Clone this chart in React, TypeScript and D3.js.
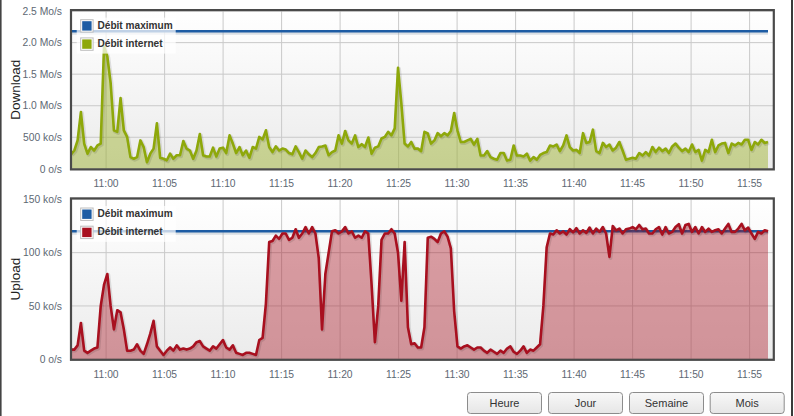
import React from 'react';
import * as d3 from 'd3';

// ---------- data ----------
const START_HOUR = 10;
const START_MINUTE = 57;
const STEP_SECONDS = 16.94;
const DOMAIN_MINUTES = 60;

const downloadKo = [
  230, 290, 450, 900, 400, 240, 345, 290, 370, 400,
  1940, 1780, 1360, 610, 585, 1120, 610, 505, 185, 160,
  185, 450, 345, 105, 240, 320, 720, 175, 160, 135,
  240, 160, 215, 215, 440, 320, 290, 160, 290, 550,
  215, 195, 195, 335, 195, 320, 335, 250, 530, 400,
  250, 345, 215, 290, 175, 345, 320, 505, 465, 610,
  345, 265, 355, 290, 320, 305, 250, 230, 355, 265,
  160, 290, 230, 185, 250, 345, 355, 370, 215, 265,
  290, 530, 400, 600, 450, 400, 530, 345, 390, 345,
  495, 240, 335, 355, 480, 505, 585, 530, 640, 1600,
  1040, 400, 355, 425, 320,
  320, 280, 585, 560, 400, 450, 565, 515, 565, 530,
  600, 885, 610, 425, 425, 450, 475, 385, 475, 210,
  210, 280, 185, 160, 145, 250, 250, 130, 145, 370,
  210, 210, 195, 240, 130, 185, 145, 220, 250, 265,
  370, 355, 385, 280, 370, 530, 345, 290, 300, 250,
  565, 410, 425, 620, 280, 250, 410, 345, 385, 290,
  335, 425, 290, 145, 160, 175, 160, 250, 210, 265,
  210, 345, 265, 335, 280, 320, 250, 355, 400, 335,
  280, 320, 265, 385, 265, 300, 130, 300, 265, 460,
  265, 370, 400, 410, 250, 400, 370, 410, 385, 460,
  460, 300, 425, 385, 460, 410, 425,
];

const uploadKo = [
  9, 9, 13, 34, 8, 6, 8, 10, 11, 50,
  70, 80, 50, 28, 46, 44, 28, 8, 8, 9,
  14, 8, 5, 14, 24, 36, 12, 8, 4, 8,
  11, 8, 13, 9, 10, 9, 10, 12, 16, 17,
  12, 10, 8, 12, 10, 14, 18, 11, 9, 13,
  6, 5, 4, 6, 6, 5, 4, 18, 20, 52,
  110, 111, 116, 113, 118, 118, 112, 114, 122, 114,
  118, 124, 118, 124, 118, 95, 28, 80, 100, 120,
  121, 118, 120, 124, 118, 120, 114, 116, 114, 120,
  118, 70, 16, 50, 112, 118, 118, 122, 118, 100,
  55, 110, 30, 14, 15, 11, 11, 30, 114, 115,
  113, 110, 118, 120, 115, 104, 45, 12, 10, 12,
  13, 11, 9, 11, 11, 8, 6, 9, 7, 5,
  8, 6, 10, 12, 7, 5, 8, 12, 6, 9,
  8, 11, 14, 50, 105, 118, 117, 121, 118, 120,
  117, 122, 119, 123, 118, 121, 118.5, 123.6, 118, 122.6,
  119.5, 124, 118, 96, 125, 121, 122.6, 118, 122, 122.6,
  124, 122, 126, 122, 122.6, 118, 118, 122, 124, 117,
  124, 118, 119.5, 124, 126.7, 118, 126, 127, 119.5, 124,
  118, 124, 119.5, 122.6, 119.5, 121, 122, 118, 122.6, 127,
  119.5, 119.5, 122.6, 127, 121, 123.6, 118, 113, 119.5, 118,
  121, 120,
];

const maxDownloadKo = 2180;
const maxUploadKo = 120;

const xTickLabels = ['11:00', '11:05', '11:10', '11:15', '11:20', '11:25', '11:30', '11:35', '11:40', '11:45', '11:50', '11:55'];
const downloadTicks = [0, 500, 1000, 1500, 2000, 2500];
const downloadTickLabels = ['0 o/s', '500 ko/s', '1.0 Mo/s', '1.5 Mo/s', '2.0 Mo/s', '2.5 Mo/s'];
const uploadTicks = [0, 50, 100, 150];
const uploadTickLabels = ['0 o/s', '50 ko/s', '100 ko/s', '150 ko/s'];
const legendLabels = ['Débit maximum', 'Débit internet'];
const buttonLabels = ['Heure', 'Jour', 'Semaine', 'Mois'];

// ---------- styling ----------
const FONT = '"Liberation Sans", Arial, Helvetica, sans-serif';
const BLUE = '#1d5ca4';
const GREEN = '#8ea80a';
const RED = '#a8101f';
const PLOT_LEFT = 71;
const PLOT_RIGHT = 773.8;

const base = new Date(2020, 0, 1, START_HOUR, START_MINUTE, 0);
const xScale = d3
  .scaleTime()
  .domain([base, new Date(base.getTime() + DOMAIN_MINUTES * 60000)])
  .range([71, 773]);
const xTicks = d3.timeMinute.every(5)!.range(
  new Date(base.getTime() + 60000),
  new Date(base.getTime() + DOMAIN_MINUTES * 60000)
);

function timeAt(i: number) {
  return new Date(base.getTime() + i * STEP_SECONDS * 1000);
}

type PanelProps = {
  id: string;
  values: number[];
  maxValue: number;
  ticks: number[];
  tickLabels: string[];
  yTop: number;
  yBottom: number;
  domainMax: number;
  color: string;
  title: string;
};

function Panel(p: PanelProps) {
  const y = d3.scaleLinear().domain([0, p.domainMax]).range([p.yBottom, p.yTop]);
  const pts = p.values.map((v, i) => [xScale(timeAt(i)), v] as [number, number]);
  const line = d3
    .line<[number, number]>()
    .x((d) => d[0])
    .y((d) => y(d[1]))
    .curve(d3.curveLinear);
  const area = d3
    .area<[number, number]>()
    .x((d) => d[0])
    .y0(y(0))
    .y1((d) => y(d[1]));
  const frameTop = p.yTop - 1;
  const frameBottom = p.yBottom + 0.6;
  const x0 = xScale(timeAt(0));
  const x1 = xScale(timeAt(p.values.length - 1));
  const yMax = y(p.maxValue);
  const legendTop = frameTop;
  return (
    <g>
      <defs>
        <linearGradient id={`bg-${p.id}`} x1="0" y1="0" x2="0" y2="1">
          <stop offset="0" stopColor="#ffffff" />
          <stop offset="1" stopColor="#ebebeb" />
        </linearGradient>
        <clipPath id={`clip-${p.id}`}>
          <rect x={PLOT_LEFT} y={frameTop} width={PLOT_RIGHT - PLOT_LEFT} height={frameBottom - frameTop} />
        </clipPath>
      </defs>
      <rect x={PLOT_LEFT} y={frameTop} width={PLOT_RIGHT - PLOT_LEFT} height={frameBottom - frameTop} fill={`url(#bg-${p.id})`} />
      {/* grid */}
      {p.ticks.map((t) => (
        <line key={`h${t}`} x1={PLOT_LEFT} x2={PLOT_RIGHT} y1={y(t)} y2={y(t)} stroke="#c9c9c9" strokeWidth={1} />
      ))}
      {xTicks.map((t, i) => (
        <line key={`v${i}`} x1={xScale(t)} x2={xScale(t)} y1={frameTop} y2={frameBottom} stroke="#c9c9c9" strokeWidth={1} />
      ))}
      <g clipPath={`url(#clip-${p.id})`}>
        {/* max line with shadow */}
        <line x1={x0} x2={x1} y1={yMax + 2} y2={yMax + 2} stroke="#9aa8b8" strokeOpacity={0.35} strokeWidth={3} />
        <line x1={x0} x2={x1} y1={yMax} y2={yMax} stroke={BLUE} strokeWidth={2.5} />
        <path d={area(pts) || ''} fill={p.color} fillOpacity={0.4} />
        <path d={line(pts) || ''} fill="none" stroke="#000" strokeOpacity={0.1} strokeWidth={4} transform="translate(1,1)" strokeLinejoin="round" />
        <path d={line(pts) || ''} fill="none" stroke={p.color} strokeWidth={2.6} strokeLinejoin="round" />
      </g>
      {/* frame */}
      <rect x={PLOT_LEFT} y={frameTop} width={PLOT_RIGHT - PLOT_LEFT} height={frameBottom - frameTop} fill="none" stroke="#4a4a4a" strokeWidth={2.2} />
      {/* y labels */}
      {p.ticks.map((t, i) => (
        <text key={`yl${t}`} x={62} y={y(t)} dy="0.36em" textAnchor="end" fontFamily={FONT} fontSize={10.3} fill="#5d6873">
          {p.tickLabels[i]}
        </text>
      ))}
      {/* x labels */}
      {xTicks.map((t, i) => (
        <text key={`xl${i}`} x={xScale(t)} y={frameBottom + 18} textAnchor="middle" fontFamily={FONT} fontSize={10.3} fill="#5d6873">
          {xTickLabels[i]}
        </text>
      ))}
      {/* axis title */}
      <text
        transform={`translate(${20},${(frameTop + frameBottom) / 2}) rotate(-90)`}
        textAnchor="middle"
        fontFamily={FONT}
        fontSize={13.5}
        fill="#222"
      >
        {p.title}
      </text>
      {/* legend */}
      <rect x={76.7} y={legendTop + 7.5} width={99} height={36} fill="#ffffff" fillOpacity={0.72} />
      {[BLUE, p.color].map((c, i) => (
        <g key={`lg${i}`}>
          <rect x={80.7} y={legendTop + 9.6 + i * 18.2} width={12.4} height={12.4} fill="#ffffff" stroke="#bdbdbd" strokeWidth={1} />
          <rect x={82.2} y={legendTop + 11.1 + i * 18.2} width={9.4} height={9.4} fill={c} />
          <text x={97.5} y={legendTop + 18.6 + i * 18.1} fontFamily={FONT} fontSize={10.1} fontWeight="bold" fill="#333">
            {legendLabels[i]}
          </text>
        </g>
      ))}
    </g>
  );
}

function Buttons() {
  const xs = [467.5, 548.5, 629.5, 710.2];
  return (
    <g>
      <defs>
        <linearGradient id="btn" x1="0" y1="0" x2="0" y2="1">
          <stop offset="0" stopColor="#f8f8f8" />
          <stop offset="1" stopColor="#e6e6e6" />
        </linearGradient>
      </defs>
      {buttonLabels.map((b, i) => (
        <g key={b}>
          <rect x={xs[i]} y={392.5} width={74} height={21} rx={3} fill="url(#btn)" stroke="#8c8c8c" strokeWidth={1} />
          <text x={xs[i] + 37} y={407} textAnchor="middle" fontFamily={FONT} fontSize={11} fill="#333">
            {b}
          </text>
        </g>
      ))}
    </g>
  );
}

export default function App() {
  return (
    <div style={{ position: 'fixed', left: 0, top: 0, width: 794, height: 416, background: '#fff' }}>
      <svg width={794} height={416} viewBox="0 0 794 416" style={{ display: 'block' }}>
        <rect x={0} y={0} width={794} height={416} fill="#ffffff" />
        <Panel
          id="dl"
          values={downloadKo}
          maxValue={maxDownloadKo}
          ticks={downloadTicks}
          tickLabels={downloadTickLabels}
          yTop={11.1}
          yBottom={168.8}
          domainMax={2500}
          color={GREEN}
          title="Download"
        />
        <Panel
          id="ul"
          values={uploadKo}
          maxValue={maxUploadKo}
          ticks={uploadTicks}
          tickLabels={uploadTickLabels}
          yTop={199.4}
          yBottom={359.2}
          domainMax={150}
          color={RED}
          title="Upload"
        />
        <Buttons />
        <line x1={0.8} x2={0.8} y1={0} y2={416} stroke="#444" strokeWidth={1.6} />
        <line x1={792} x2={792} y1={0} y2={416} stroke="#3a3a3a" strokeWidth={2} />
      </svg>
    </div>
  );
}
